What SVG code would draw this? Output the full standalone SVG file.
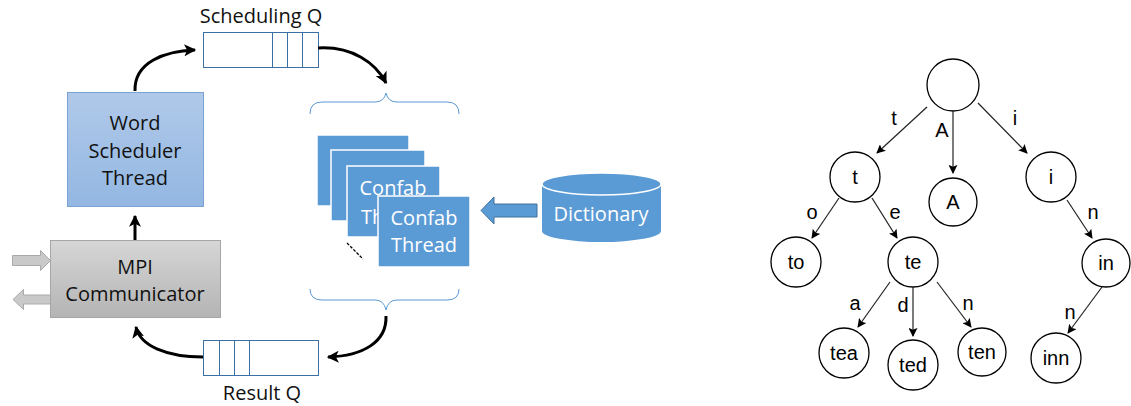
<svg xmlns="http://www.w3.org/2000/svg" width="1131" height="406" viewBox="0 0 1131 406">
  <style>
    .lbl { font-family: "Open Sans", "Liberation Sans", sans-serif; font-size: 20px; fill: #111; text-anchor: middle; }
    .wlbl { font-family: "Open Sans", "Liberation Sans", sans-serif; font-size: 20px; fill: #fff; text-anchor: middle; }
    .queue { fill: #fff; stroke: #3a6ea5; stroke-width: 1; }
    .qdiv { stroke: #3a6ea5; stroke-width: 1; }
    .flow { fill: none; stroke: #000; stroke-width: 3; }
    .brace { fill: none; stroke: #5b9bd5; stroke-width: 1; }
    .thread { fill: #5b9bd5; stroke: #fff; stroke-width: 1.5; }
    .io { fill: #c9c9c9; stroke: #a9a9a9; stroke-width: 1; }
    .tnode { fill: #fff; stroke: #000; stroke-width: 1.3; }
    .ttxt { font-family: "Liberation Sans", Arial, sans-serif; font-size: 20px; fill: #000; text-anchor: middle; }
    .edge { fill: none; stroke: #222; stroke-width: 1.2; }
  </style>
  <defs>
    <linearGradient id="gBlue" x1="0" y1="0" x2="0" y2="1">
      <stop offset="0" stop-color="#b0c9e9"/>
      <stop offset="1" stop-color="#93b7e2"/>
    </linearGradient>
    <linearGradient id="gGray" x1="0" y1="0" x2="0" y2="1">
      <stop offset="0" stop-color="#d6d6d6"/>
      <stop offset="1" stop-color="#b4b4b4"/>
    </linearGradient>
    <marker id="headBold" viewBox="0 0 10 10" refX="9" refY="5" markerWidth="4" markerHeight="4" orient="auto" markerUnits="strokeWidth">
      <path d="M0,0 L10,5 L0,10 L2.5,5 Z" fill="#000"/>
    </marker>
    <marker id="headThin" viewBox="0 0 10 10" refX="9" refY="5" markerWidth="9" markerHeight="9" orient="auto" markerUnits="userSpaceOnUse">
      <path d="M0,0 L10,5 L0,10 L2,5 Z" fill="#000"/>
    </marker>
  </defs>

  <!-- Scheduling queue -->
  <g id="scheduling-q">
    <text class="lbl" x="261" y="23">Scheduling Q</text>
    <rect class="queue" x="203.5" y="32.5" width="115" height="35"/>
    <line class="qdiv" x1="272.5" y1="32.5" x2="272.5" y2="67.5"/>
    <line class="qdiv" x1="287.5" y1="32.5" x2="287.5" y2="67.5"/>
    <line class="qdiv" x1="302.5" y1="32.5" x2="302.5" y2="67.5"/>
  </g>

  <!-- Result queue -->
  <g id="result-q">
    <rect class="queue" x="203.5" y="340.5" width="115" height="35"/>
    <line class="qdiv" x1="219.5" y1="340.5" x2="219.5" y2="375.5"/>
    <line class="qdiv" x1="234.5" y1="340.5" x2="234.5" y2="375.5"/>
    <line class="qdiv" x1="249.5" y1="340.5" x2="249.5" y2="375.5"/>
    <text class="lbl" x="262" y="400">Result Q</text>
  </g>

  <!-- Word scheduler thread -->
  <g id="word-scheduler">
    <rect x="67.5" y="92.5" width="136" height="114" fill="url(#gBlue)" stroke="#7aa3d4" stroke-width="1"/>
    <text class="lbl" x="135" y="130">Word</text>
    <text class="lbl" x="135" y="158">Scheduler</text>
    <text class="lbl" x="135" y="185">Thread</text>
  </g>

  <!-- MPI communicator with in/out arrows -->
  <g id="mpi-communicator">
    <path class="io" d="M12.5,255.5 H40.5 V250.5 L50.5,260.5 L40.5,270.5 V265.5 H12.5 Z"/>
    <path class="io" d="M50.5,295 H23.5 V289.5 L13,299.5 L23.5,309.5 V304 H50.5 Z"/>
    <rect x="50.5" y="240.5" width="170" height="77" fill="url(#gGray)" stroke="#a6a6a6" stroke-width="1"/>
    <text class="lbl" x="135" y="274">MPI</text>
    <text class="lbl" x="135" y="301">Communicator</text>
  </g>

  <!-- Pool of confab threads -->
  <g id="confab-threads">
    <path class="brace" d="M310,114 Q310,102 322,102 L375,102 Q384,102 386,93 Q388,102 397,102 L447,102 Q459,102 459,114"/>
    <rect class="thread" x="317" y="135" width="92" height="71"/>
    <rect class="thread" x="331" y="150" width="94" height="71"/>
    <rect class="thread" x="347" y="166" width="93" height="71"/>
    <text class="wlbl" x="393" y="195">Confab</text>
    <text class="wlbl" x="361" y="224" text-anchor="start" style="text-anchor:start">Th</text>
    <rect class="thread" x="378" y="196" width="92" height="71"/>
    <text class="wlbl" x="424" y="225">Confab</text>
    <text class="wlbl" x="424" y="252">Thread</text>
    <line x1="347" y1="243" x2="363" y2="259" stroke="#000" stroke-width="1.3" stroke-dasharray="3,1.5"/>
    <path class="brace" d="M310,289 Q310,300 322,300 L375,300 Q384,300 386,310 Q388,300 397,300 L447,300 Q459,300 459,289"/>
  </g>

  <!-- Dictionary store -->
  <g id="dictionary">
    <path d="M542,184 V231 A59.5,11 0 0 0 661,231 V184 Z" fill="#5b9bd5"/>
    <ellipse cx="601.5" cy="184" rx="59.5" ry="11" fill="#5b9bd5" stroke="#fff" stroke-width="1.5"/>
    <text class="wlbl" x="601" y="221">Dictionary</text>
  </g>

  <!-- Connectors of the pipeline -->
  <g id="pipeline-connectors">
    <path d="M537,204 H494 V197 L481,210.5 L494,224 V217 H537 Z" fill="#5b9bd5" stroke="#41719c" stroke-width="1"/>
    <path class="flow" d="M135,91 C134,62 165,51 195,50" marker-end="url(#headBold)"/>
    <path class="flow" d="M318,48 C352,46 376,63 386,83" marker-end="url(#headBold)"/>
    <path class="flow" d="M386,316 C387,342 363,356 328,357" marker-end="url(#headBold)"/>
    <path class="flow" d="M203,357 C167,357 140,346 136,327" marker-end="url(#headBold)"/>
    <line class="flow" x1="135" y1="240" x2="135" y2="216" marker-end="url(#headBold)"/>
  </g>

  <!-- Trie nodes -->
  <g id="trie-root"><circle class="tnode" cx="953" cy="85" r="26"/></g>
  <g id="trie-t"><circle class="tnode" cx="855" cy="177" r="25"/><text class="ttxt" x="855" y="184">t</text></g>
  <g id="trie-A"><circle class="tnode" cx="953" cy="202" r="24"/><text class="ttxt" x="953" y="209">A</text></g>
  <g id="trie-i"><circle class="tnode" cx="1051" cy="177" r="25"/><text class="ttxt" x="1051" y="184">i</text></g>
  <g id="trie-to"><circle class="tnode" cx="796" cy="262" r="25"/><text class="ttxt" x="796" y="269">to</text></g>
  <g id="trie-te"><circle class="tnode" cx="913" cy="262" r="25"/><text class="ttxt" x="913" y="269">te</text></g>
  <g id="trie-in"><circle class="tnode" cx="1106" cy="263" r="24"/><text class="ttxt" x="1106" y="270">in</text></g>
  <g id="trie-tea"><circle class="tnode" cx="844" cy="353" r="25"/><text class="ttxt" x="844" y="360">tea</text></g>
  <g id="trie-ted"><circle class="tnode" cx="913" cy="365" r="25"/><text class="ttxt" x="913" y="372">ted</text></g>
  <g id="trie-ten"><circle class="tnode" cx="982" cy="352" r="24"/><text class="ttxt" x="982" y="359">ten</text></g>
  <g id="trie-inn"><circle class="tnode" cx="1056" cy="358" r="25"/><text class="ttxt" x="1056" y="365">inn</text></g>

  <!-- Trie edges and their letters -->
  <g id="trie-edges">
    <line class="edge" x1="927" y1="107" x2="877" y2="153" marker-end="url(#headThin)"/>
    <line class="edge" x1="953" y1="111" x2="953" y2="173" marker-end="url(#headThin)"/>
    <line class="edge" x1="978" y1="103" x2="1027" y2="153" marker-end="url(#headThin)"/>
    <line class="edge" x1="839" y1="198" x2="812" y2="238" marker-end="url(#headThin)"/>
    <line class="edge" x1="872" y1="198" x2="897" y2="238" marker-end="url(#headThin)"/>
    <line class="edge" x1="1067" y1="200" x2="1092" y2="238" marker-end="url(#headThin)"/>
    <line class="edge" x1="890" y1="282" x2="858" y2="327" marker-end="url(#headThin)"/>
    <line class="edge" x1="913" y1="287" x2="913" y2="336" marker-end="url(#headThin)"/>
    <line class="edge" x1="937" y1="282" x2="971" y2="327" marker-end="url(#headThin)"/>
    <line class="edge" x1="1102" y1="287" x2="1068" y2="333" marker-end="url(#headThin)"/>
    <text class="ttxt" x="894" y="125">t</text>
    <text class="ttxt" x="942" y="137">A</text>
    <text class="ttxt" x="1015" y="125">i</text>
    <text class="ttxt" x="812" y="219">o</text>
    <text class="ttxt" x="895" y="219">e</text>
    <text class="ttxt" x="1093" y="219">n</text>
    <text class="ttxt" x="855" y="310">a</text>
    <text class="ttxt" x="903" y="312">d</text>
    <text class="ttxt" x="968" y="310">n</text>
    <text class="ttxt" x="1070" y="319">n</text>
  </g>
</svg>
